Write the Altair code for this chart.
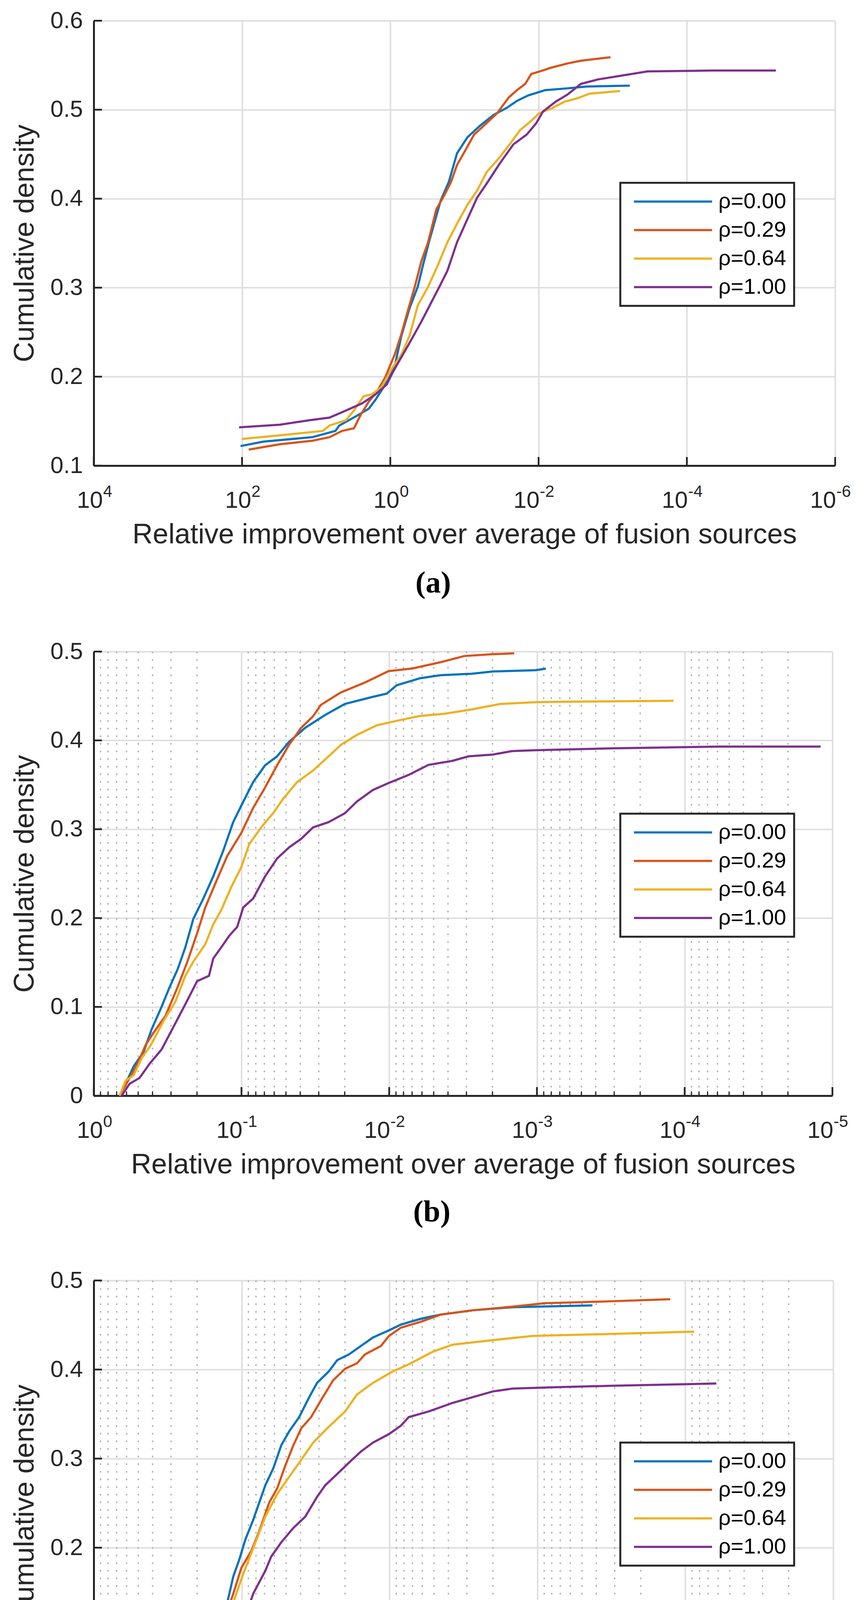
import altair as alt
import pandas as pd

# ---------------- data ----------------
series_names = ["ρ=0.00", "ρ=0.29", "ρ=0.64", "ρ=1.00"]
series_colors = ["#0072BD", "#D95319", "#EDB120", "#7E2F8E"]

# panel (a): log10 of relative improvement, cumulative density
a_r000_lx = [2.02, 1.71, 1.05, 0.74, 0.69, 0.43, 0.29, 0.20, 0.03, -0.06, -0.15, -0.26, -0.37, -0.44, -0.53, -0.68, -0.79, -0.90, -1.04, -1.21, -1.39, -1.57, -1.71, -1.86, -2.09, -2.39, -2.65, -3.23]
a_r000_y = [0.122, 0.127, 0.132, 0.139, 0.145, 0.157, 0.164, 0.174, 0.196, 0.212, 0.246, 0.277, 0.301, 0.325, 0.354, 0.398, 0.419, 0.451, 0.469, 0.482, 0.494, 0.502, 0.510, 0.516, 0.522, 0.524, 0.526, 0.527]
a_r029_lx = [1.91, 1.49, 1.05, 0.82, 0.65, 0.49, 0.40, 0.29, 0.18, 0.07, -0.06, -0.15, -0.24, -0.33, -0.42, -0.51, -0.62, -0.73, -0.82, -0.90, -0.99, -1.13, -1.30, -1.44, -1.60, -1.71, -1.82, -1.90, -2.09, -2.16, -2.39, -2.57, -2.97]
a_r029_y = [0.118, 0.124, 0.128, 0.132, 0.139, 0.142, 0.157, 0.172, 0.183, 0.199, 0.225, 0.248, 0.275, 0.301, 0.330, 0.351, 0.388, 0.404, 0.419, 0.438, 0.451, 0.472, 0.485, 0.496, 0.514, 0.522, 0.529, 0.540, 0.545, 0.547, 0.552, 0.555, 0.559]
a_r064_lx = [2.00, 1.49, 0.91, 0.82, 0.60, 0.49, 0.36, 0.25, 0.12, -0.02, -0.15, -0.26, -0.37, -0.51, -0.64, -0.77, -0.90, -1.04, -1.17, -1.30, -1.44, -1.61, -1.75, -1.88, -2.01, -2.19, -2.35, -2.53, -2.69, -3.10]
a_r064_y = [0.130, 0.134, 0.139, 0.145, 0.151, 0.162, 0.178, 0.180, 0.188, 0.209, 0.225, 0.246, 0.280, 0.301, 0.325, 0.351, 0.372, 0.393, 0.409, 0.430, 0.443, 0.461, 0.477, 0.486, 0.496, 0.502, 0.509, 0.513, 0.518, 0.521]
a_r100_lx = [2.04, 1.49, 1.09, 0.82, 0.65, 0.38, 0.20, 0.05, -0.04, -0.15, -0.28, -0.42, -0.55, -0.68, -0.77, -0.90, -1.04, -1.17, -1.30, -1.48, -1.66, -1.84, -1.97, -2.06, -2.23, -2.39, -2.57, -2.80, -3.17, -3.47, -4.34, -5.20]
a_r100_y = [0.143, 0.146, 0.151, 0.154, 0.160, 0.170, 0.180, 0.191, 0.206, 0.222, 0.241, 0.262, 0.283, 0.304, 0.319, 0.351, 0.377, 0.401, 0.417, 0.440, 0.461, 0.472, 0.485, 0.498, 0.509, 0.517, 0.529, 0.534, 0.539, 0.543, 0.544, 0.544]

# panel (b)
b_r000_lx = [-0.175, -0.216, -0.27, -0.337, -0.39, -0.459, -0.513, -0.567, -0.62, -0.674, -0.742, -0.809, -0.877, -0.944, -1.012, -1.079, -1.16, -1.241, -1.32, -1.43, -1.565, -1.70, -1.888, -1.983, -2.05, -2.21, -2.347, -2.56, -2.70, -2.99, -3.06]
b_r000_y = [0.0, 0.0135, 0.033, 0.049, 0.074, 0.100, 0.122, 0.142, 0.167, 0.199, 0.222, 0.247, 0.276, 0.308, 0.331, 0.353, 0.372, 0.382, 0.398, 0.414, 0.4285, 0.441, 0.449, 0.4526, 0.462, 0.470, 0.4734, 0.475, 0.4776, 0.479, 0.4808]
b_r029_lx = [-0.175, -0.243, -0.297, -0.351, -0.405, -0.486, -0.567, -0.634, -0.70, -0.755, -0.836, -0.904, -0.998, -1.079, -1.16, -1.241, -1.322, -1.403, -1.484, -1.538, -1.672, -1.834, -1.996, -2.158, -2.347, -2.509, -2.70, -2.846]
b_r029_y = [0.0, 0.020, 0.036, 0.057, 0.071, 0.090, 0.122, 0.151, 0.183, 0.212, 0.244, 0.270, 0.2955, 0.324, 0.347, 0.372, 0.395, 0.414, 0.427, 0.440, 0.454, 0.465, 0.478, 0.481, 0.488, 0.495, 0.497, 0.498]
b_r064_lx = [-0.175, -0.216, -0.27, -0.324, -0.39, -0.472, -0.553, -0.62, -0.674, -0.755, -0.809, -0.863, -0.93, -0.998, -1.052, -1.133, -1.214, -1.281, -1.376, -1.484, -1.59, -1.673, -1.78, -1.915, -2.05, -2.21, -2.374, -2.563, -2.75, -2.994, -3.237, -3.925]
b_r064_y = [0.0, 0.017, 0.023, 0.042, 0.058, 0.084, 0.106, 0.135, 0.151, 0.1705, 0.193, 0.209, 0.2346, 0.257, 0.283, 0.302, 0.318, 0.334, 0.353, 0.366, 0.382, 0.395, 0.406, 0.417, 0.422, 0.4276, 0.430, 0.435, 0.441, 0.443, 0.4436, 0.4446]
b_r100_lx = [-0.189, -0.243, -0.31, -0.378, -0.459, -0.54, -0.62, -0.70, -0.78, -0.809, -0.863, -0.917, -0.971, -1.012, -1.079, -1.16, -1.241, -1.322, -1.403, -1.484, -1.59, -1.70, -1.78, -1.888, -1.996, -2.13, -2.266, -2.428, -2.536, -2.70, -2.832, -2.994, -3.507, -4.23, -4.92]
b_r100_y = [0.0, 0.0135, 0.020, 0.036, 0.052, 0.0776, 0.103, 0.129, 0.135, 0.1545, 0.167, 0.180, 0.190, 0.212, 0.222, 0.247, 0.267, 0.2795, 0.289, 0.302, 0.308, 0.318, 0.331, 0.344, 0.352, 0.361, 0.3724, 0.377, 0.382, 0.384, 0.388, 0.389, 0.391, 0.393, 0.393]

# panel (c)
c_r000_lx = [-0.607, -0.647, -0.70, -0.755, -0.809, -0.863, -0.904, -0.944, -0.985, -1.025, -1.079, -1.12, -1.16, -1.214, -1.268, -1.322, -1.389, -1.457, -1.51, -1.59, -1.646, -1.726, -1.807, -1.888, -1.996, -2.077, -2.212, -2.347, -2.563, -2.832, -3.372]
c_r000_y = [0.0, 0.014, 0.037, 0.062, 0.091, 0.117, 0.139, 0.168, 0.187, 0.209, 0.2316, 0.251, 0.270, 0.289, 0.315, 0.3307, 0.3466, 0.369, 0.385, 0.398, 0.4105, 0.417, 0.4265, 0.436, 0.444, 0.4505, 0.457, 0.4617, 0.4665, 0.470, 0.472]
c_r029_lx = [-0.607, -0.661, -0.728, -0.782, -0.836, -0.89, -0.944, -0.998, -1.066, -1.12, -1.187, -1.241, -1.295, -1.349, -1.403, -1.47, -1.538, -1.619, -1.70, -1.78, -1.834, -1.942, -1.996, -2.077, -2.212, -2.347, -2.563, -2.832, -3.048, -3.507, -3.898]
c_r029_y = [0.0, 0.0208, 0.046, 0.0687, 0.094, 0.123, 0.1486, 0.1773, 0.1965, 0.219, 0.2508, 0.2668, 0.292, 0.3147, 0.334, 0.3466, 0.366, 0.388, 0.401, 0.407, 0.417, 0.4265, 0.4377, 0.447, 0.4537, 0.4617, 0.4665, 0.4706, 0.4744, 0.4767, 0.479]
c_r064_lx = [-0.607, -0.661, -0.728, -0.782, -0.836, -0.89, -0.944, -1.012, -1.079, -1.16, -1.241, -1.322, -1.403, -1.484, -1.578, -1.70, -1.78, -1.888, -2.023, -2.13, -2.293, -2.428, -2.698, -2.967, -3.507, -4.06]
c_r064_y = [0.0, 0.024, 0.046, 0.0623, 0.0879, 0.1166, 0.139, 0.171, 0.1997, 0.2348, 0.2604, 0.2796, 0.2987, 0.318, 0.334, 0.353, 0.372, 0.385, 0.398, 0.4058, 0.420, 0.428, 0.433, 0.4377, 0.440, 0.4425]
c_r100_lx = [-0.607, -0.647, -0.70, -0.782, -0.863, -0.944, -1.012, -1.079, -1.16, -1.2, -1.268, -1.349, -1.43, -1.51, -1.565, -1.646, -1.726, -1.807, -1.888, -1.996, -2.077, -2.13, -2.266, -2.428, -2.563, -2.698, -2.832, -3.102, -3.507, -4.21]
c_r100_y = [0.0, 0.008, 0.0208, 0.046, 0.0719, 0.0974, 0.1166, 0.1486, 0.174, 0.19, 0.206, 0.222, 0.2348, 0.257, 0.27, 0.2827, 0.2955, 0.308, 0.318, 0.3275, 0.337, 0.3466, 0.353, 0.3626, 0.369, 0.3754, 0.3786, 0.380, 0.3818, 0.3843]

# axes
a_xticks = [1e4, 1e2, 1e0, 1e-2, 1e-4, 1e-6]
a_xexp = ["4", "2", "0", "-2", "-4", "-6"]
a_yticks = [0.1, 0.2, 0.3, 0.4, 0.5, 0.6]
bc_xticks = [1e0, 1e-1, 1e-2, 1e-3, 1e-4, 1e-5]
bc_xexp = ["0", "-1", "-2", "-3", "-4", "-5"]
bc_yticks = [0.0, 0.1, 0.2, 0.3, 0.4, 0.5]
minor_mult = [2, 3, 4, 5, 6, 7, 8, 9]
minor_decades = [1e-1, 1e-2, 1e-3, 1e-4, 1e-5]
bc_minor = [m * d for d in minor_decades for m in minor_mult]

x_title = "Relative improvement over average of fusion sources"
y_title = "Cumulative density"

# ---------------- styling ----------------
FONT = "Liberation Sans"
INK = "#262626"
GRID = "#dfdfdf"


def series_frame(groups):
    rows = []
    for name, lx, ys in groups:
        for u, v in zip(lx, ys):
            rows.append({"x": 10 ** u, "y": v, "series": name})
    return pd.DataFrame(rows)


def panel(df, xdom, xticks, xexp, ydom, yticks, minor, W, H, label, toff):
    xscale = alt.Scale(type="log", domain=xdom, reverse=True, nice=False)
    yscale = alt.Scale(domain=ydom, nice=False, zero=False)
    xaxis = alt.Axis(
        values=xticks, grid=True, gridColor=GRID, gridWidth=4, ticks=False,
        domain=True, domainColor=INK, domainWidth=5,
        labelExpr="'10'", labelAlign="right",
        labelOffset={"condition": {"test": "datum.value >= 1", "value": 23}, "value": 2},
        labelPadding=60, labelFontSize=60, labelFont=FONT, labelColor=INK,
        labelFlush=False, labelOverlap=False,
        title=x_title, titleFont=FONT, titleFontSize=72, titleFontWeight="normal",
        titleColor=INK, titlePadding=22,
    )
    yaxis = alt.Axis(
        values=yticks, grid=True, gridColor=GRID, gridWidth=4, ticks=False,
        domain=True, domainColor=INK, domainWidth=5,
        labelExpr="datum.value == 0 ? '0' : format(datum.value, '.1f')",
        labelPadding=28, labelFontSize=60, labelFont=FONT, labelColor=INK,
        labelFlush=False, labelOverlap=False,
        title=y_title, titleFont=FONT, titleFontSize=72, titleFontWeight="normal",
        titleColor=INK, titlePadding=28,
    )
    X = alt.X("x:Q", scale=xscale, axis=xaxis)
    Y = alt.Y("y:Q", scale=yscale, axis=yaxis)

    layers = []
    if minor:
        layers.append(
            alt.Chart(pd.DataFrame({"x": minor}))
            .mark_rule(color="#b4b4b4", strokeWidth=3.5, strokeDash=[4.5, 15])
            .encode(x=X)
        )
    layers.append(
        alt.Chart(df).mark_line(strokeWidth=5.5).encode(
            x=X, y=Y,
            color=alt.Color(
                "series:N",
                scale=alt.Scale(domain=series_names, range=series_colors),
                legend=alt.Legend(
                    title=None, orient="none", legendX=1348, legendY=415,
                    symbolType="M-5,0H5", symbolSize=1600, symbolStrokeWidth=5.5,
                    symbolOffset=87, labelOffset=88, labelFontSize=56,
                    labelFont=FONT, labelColor="black", labelLimit=0,
                    padding=20, rowPadding=17, strokeColor=INK, fillColor="white",
                ),
            ),
        )
    )
    if minor:
        layers.append(
            alt.Chart(pd.DataFrame({"x": minor}))
            .mark_rule(color=INK, strokeWidth=3)
            .encode(x=X, y=alt.value(H), y2=alt.value(H - 11))
        )
    layers.append(
        alt.Chart(pd.DataFrame({"x": xticks}))
        .mark_rule(color=INK, strokeWidth=4.5)
        .encode(x=X, y=alt.value(H), y2=alt.value(H - 22))
    )
    layers.append(
        alt.Chart(pd.DataFrame({"y": yticks}))
        .mark_rule(color=INK, strokeWidth=4.5)
        .encode(y=Y, x=alt.value(0), x2=alt.value(21))
    )
    exp_df = pd.DataFrame({"x": xticks, "e": xexp})
    pos_df = exp_df[exp_df["x"] >= 1]
    neg_df = exp_df[exp_df["x"] < 1]
    layers.append(
        alt.Chart(pos_df).mark_text(align="left", baseline="alphabetic", dx=24,
                                    fontSize=42, font=FONT, color=INK)
        .encode(x=X, y=alt.value(H + 80), text="e:N")
    )
    layers.append(
        alt.Chart(neg_df).mark_text(align="left", baseline="alphabetic", dx=3,
                                    fontSize=42, font=FONT, color=INK)
        .encode(x=X, y=alt.value(H + 80), text="e:N")
    )
    return alt.layer(*layers).properties(
        width=W, height=H,
        title=alt.TitleParams(
            text=label, orient="bottom", anchor="middle", frame="group",
            dx=-80, offset=toff, font="Liberation Serif", fontSize=78,
            fontWeight="bold", color="black",
        ),
    )


df_a = series_frame([
    (series_names[0], a_r000_lx, a_r000_y),
    (series_names[1], a_r029_lx, a_r029_y),
    (series_names[2], a_r064_lx, a_r064_y),
    (series_names[3], a_r100_lx, a_r100_y),
])
df_b = series_frame([
    (series_names[0], b_r000_lx, b_r000_y),
    (series_names[1], b_r029_lx, b_r029_y),
    (series_names[2], b_r064_lx, b_r064_y),
    (series_names[3], b_r100_lx, b_r100_y),
])
df_c = series_frame([
    (series_names[0], c_r000_lx, c_r000_y),
    (series_names[1], c_r029_lx, c_r029_y),
    (series_names[2], c_r064_lx, c_r064_y),
    (series_names[3], c_r100_lx, c_r100_y),
])

pa = panel(df_a, [1e-6, 1e4], a_xticks, a_xexp, [0.1, 0.6], a_yticks, None, 1898, 1139, "(a)", 51)
pb = panel(df_b, [1e-5, 1e0], bc_xticks, bc_xexp, [0.0, 0.5], bc_yticks, bc_minor, 1891, 1137, "(b)", 48)
pc = panel(df_c, [1e-5, 1e0], bc_xticks, bc_xexp, [0.0, 0.5], bc_yticks, bc_minor, 1893, 1140, "(c)", 40)

chart = (
    alt.vconcat(pa, pb, pc, spacing=105)
    .resolve_scale(x="independent", y="independent", color="independent")
    .resolve_legend(color="independent")
    .properties(padding={"top": 15, "left": 19, "right": 10, "bottom": 10}, background="white")
    .configure_view(stroke=None)
    .configure_legend(strokeWidth=5)
)

chart.save("out.html", embed_options={"renderer": "svg", "actions": False})
